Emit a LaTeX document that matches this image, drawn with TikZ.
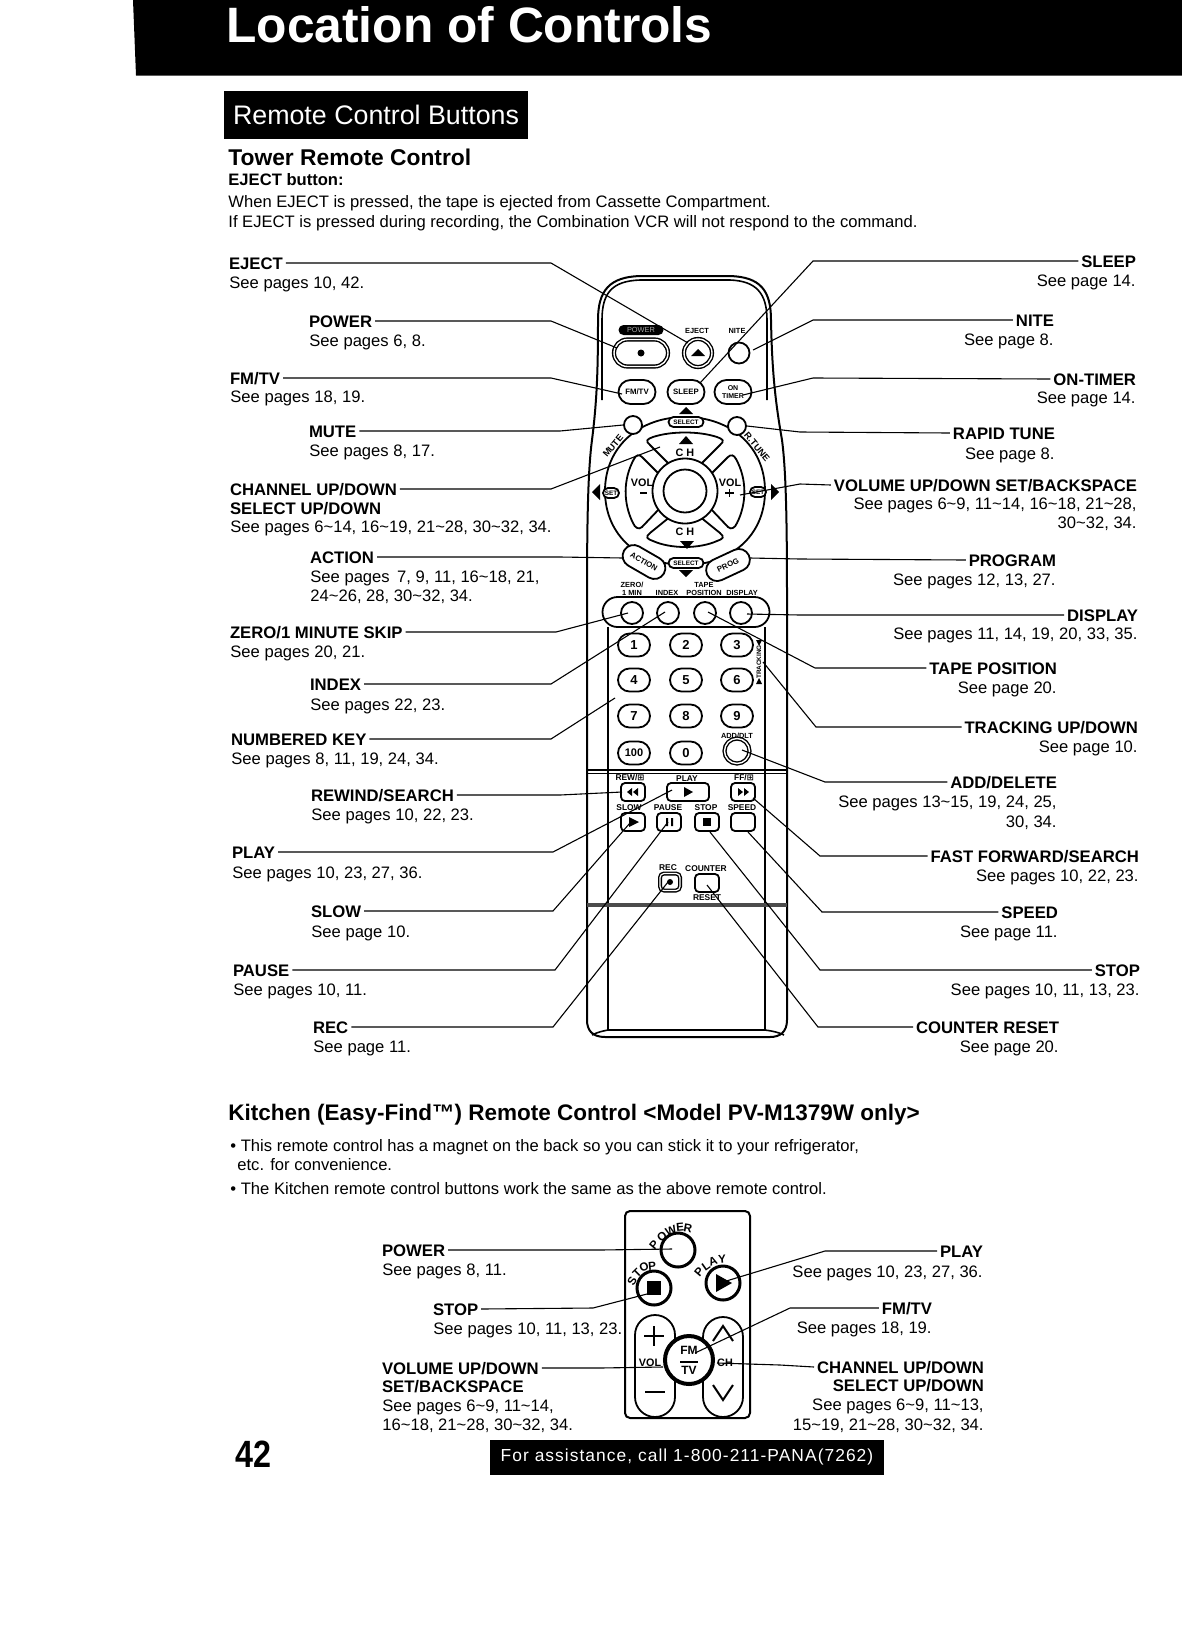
\documentclass[tikz,border=0pt]{standalone}
\usepackage{fontspec}
\setmainfont{Liberation Sans}
\newfontfamily\symf{DejaVu Sans}
\usetikzlibrary{shapes.misc}
\tikzset{
 lb/.style={font=\fontsize{8.35}{9}\selectfont\bfseries,inner sep=0pt,outer sep=1.5pt,text height=6pt,text depth=0pt},
 ls/.style={font=\fontsize{8.3}{9}\selectfont,inner sep=0pt,text height=6pt,text depth=0pt},
 lead/.style={line width=0.55pt,black},
 outline/.style={line width=0.8pt,black},
 key/.style={draw,line width=0.9pt,fill=white,rounded rectangle,inner sep=0pt,minimum width=16pt,minimum height=11.5pt,font=\fontsize{6.5}{7}\selectfont\bfseries},
 sq/.style={draw,line width=0.9pt,fill=white,rounded corners=2pt,inner sep=0pt,minimum width=12pt,minimum height=9pt,font=\fontsize{5}{5}\selectfont\bfseries},
 circ/.style={draw,line width=0.9pt,fill=white,circle,inner sep=0pt,minimum size=#1},
 tiny/.style={font=\fontsize{3.7}{4}\selectfont\bfseries,inner sep=0pt,align=center},
 small/.style={font=\fontsize{5.4}{5.6}\selectfont\bfseries,inner sep=0pt,align=center},
 trans/.style={font=\fontsize{4.2}{4.4}\selectfont\bfseries,inner sep=0pt},
 selp/.style={draw,line width=0.9pt,fill=white,rounded rectangle,inner sep=0pt,minimum width=17.5pt,minimum height=5pt,font=\fontsize{3.2}{3.4}\selectfont\bfseries},
 setp/.style={fill=white,draw,line width=0.9pt,rounded rectangle,inner sep=0pt,minimum width=8pt,minimum height=5pt,font=\fontsize{3.2}{3.4}\selectfont\bfseries},
 kc/.style={draw,fill=white,circle,inner sep=0pt,line width=1.5pt,minimum size=#1},
 kl/.style={font=\fontsize{5.8}{6}\selectfont\bfseries,inner sep=0pt},
}
\newcommand\LB[4]{\node[lb,anchor=west,xshift=-1.5pt] (l#1) at (#2,#3) {#4};}
\newcommand\RB[4]{\node[lb,anchor=east,xshift=1.5pt] (r#1) at (#2,#3) {#4};}
\newcommand\LS[4]{\node[ls,anchor=west] (#1) at (#2,#3) {#4};}
\newcommand\RS[4]{\node[ls,anchor=east] (#1) at (#2,#3) {#4};}
\newcommand\CL[5]{\coordinate (k#1) at (#2,#3);\coordinate (t#1) at (#4,#5);\draw[lead] (l#1.east)--(k#1)--(t#1);}
\newcommand\CR[5]{\coordinate (k#1) at (#2,#3);\coordinate (t#1) at (#4,#5);\draw[lead] (r#1.west)--(k#1)--(t#1);}
\begin{document}
\begin{tikzpicture}[x=0.5pt,y=-0.5pt]
\useasboundingbox (0,0) rectangle (1182,1644);
\fill[white] (0,0) rectangle (1182,1644);
% header
\fill[black] (133,0) -- (1182,0) -- (1182,75.5) -- (136,75.5) -- cycle;
\node[white,anchor=west,inner sep=0pt,font=\fontsize{24.85}{27}\selectfont\bfseries] (title) at (226,25) {Location of Controls};
\node[fill=black,text=white,inner sep=0pt,minimum width=152pt,minimum height=24pt,font=\fontsize{13.4}{15}\selectfont] (sub) at (376,115) {Remote Control Buttons};
\node[anchor=west,inner sep=0pt,font=\fontsize{11.4}{13}\selectfont\bfseries] (tower) at (228,157) {Tower Remote Control};
\node[anchor=west,inner sep=0pt,font=\fontsize{8.3}{9}\selectfont\bfseries] (ejb) at (228,180) {EJECT button:};
\LS{ej1}{228}{201}{When EJECT is pressed, the tape is ejected from Cassette Compartment.}
\LS{ej2}{228}{221}{If EJECT is pressed during recording, the Combination VCR will not respond to the command.}

% ---------- tower remote body
\draw[outline,line width=1pt] (598,320) .. controls (598,290) and (610,277) .. (640,276) -- (730,276) .. controls (760,277) and (771,290) .. (771,320) .. controls (772,370) and (775,400) .. (782,440) .. controls (786,470) and (787,520) .. (787,600) -- (787,1020) .. controls (787,1032) and (780,1037) .. (770,1037) -- (605,1037) .. controls (592,1037) and (587,1030) .. (587,1020) -- (587,600) .. controls (587,520) and (588,470) .. (592,440) .. controls (597,400) and (598,370) .. (598,320);
\draw[outline] (602,400) -- (602,320) .. controls (602,293) and (612,281) .. (640,280) -- (730,280) .. controls (756,281) and (767,293) .. (767,320) -- (767,400);
\draw[outline] (608,627) -- (608,1030);
\draw[outline] (765,627) -- (765,1030);
\draw[outline] (592,1035) .. controls (598,1032) and (603,1031) .. (608,1030) -- (765,1030) .. controls (772,1031) and (778,1032) .. (784,1035);
\draw[line width=0.8pt] (587,770) -- (787,770);
\draw[line width=0.4pt] (587,773) -- (787,773);
\draw[line width=1.8pt,black!70] (587,905) -- (787,905);

% top buttons
\node[fill=black,rounded rectangle,text=black!35,minimum width=22.5pt,minimum height=5pt,inner sep=0pt,font=\fontsize{3.7}{4}\selectfont] (powerlab) at (641,330) {POWER};
\node[key,double,double distance=0.7pt,line width=0.7pt,minimum width=27pt,minimum height=13.5pt] (power) at (641,353) {};
\fill (641,353) circle[radius=3.5];
\node[tiny] (ejlab) at (697,331) {EJECT};
\node[tiny] (nitelab) at (737,331) {NITE};
\node[circ=14pt,double,double distance=0.7pt,line width=0.7pt] (eject) at (698,353) {};
\fill (691,356) -- (698,349) -- (705,356) -- cycle;
\node[circ=10.5pt] (nite) at (739,353) {};
\node[key,minimum width=18.5pt,minimum height=12pt,font=\fontsize{3.9}{4}\selectfont\bfseries] (fmtv) at (637,392) {FM/TV};
\node[key,minimum width=18.5pt,minimum height=12pt,font=\fontsize{3.9}{4}\selectfont\bfseries] (sleep) at (686,392) {SLEEP};
\node[key,minimum width=18.5pt,minimum height=12pt,font=\fontsize{3.5}{3.8}\selectfont\bfseries,align=center] (ontimer) at (733,392) {ON\\TIMER};

% direction pad
\begin{scope}[shift={(685,491)}]
 \draw[line width=0.9pt] (-80,0) .. controls (-80,-45) and (-45,-74) .. (0,-74) .. controls (45,-74) and (80,-45) .. (80,0) .. controls (80,45) and (45,74) .. (0,74) .. controls (-45,74) and (-80,45) .. (-80,0) -- cycle;
 \draw[line width=0.9pt,fill=white] (-14,-25) -- (-35,-46) .. controls (-40,-50) and (-38,-52) .. (-32,-54) .. controls (-14,-60) and (14,-60) .. (32,-54) .. controls (38,-52) and (40,-50) .. (35,-46) -- (14,-25) -- cycle;
 \draw[line width=0.9pt,fill=white] (-14,25) -- (-35,42) .. controls (-40,46) and (-38,48) .. (-32,50) .. controls (-14,58) and (14,58) .. (32,50) .. controls (38,48) and (40,46) .. (35,42) -- (14,25) -- cycle;
 \foreach \a in {1,-1}{
  \begin{scope}[xscale=\a]
  \draw[line width=0.9pt,fill=white] (-25,-16) -- (-43,-34) .. controls (-46,-37) and (-49,-36) .. (-51,-32) .. controls (-62,-12) and (-62,12) .. (-52,32) .. controls (-50,37) and (-46,39) .. (-43,36) -- (-25,17) -- cycle;
  \end{scope}
 }
\end{scope}
\node[circ=32.5pt] (ringo) at (685,491) {};
\node[circ=21.5pt] (ringi) at (685,491) {};
\node[circ=9pt] (mute) at (633,425) {};
\node[circ=9pt] (rtune) at (737,426) {};
\node[selp] (sel1) at (686,422) {SELECT};
\fill (679,414) -- (686,407) -- (693,414) -- cycle;
\node[small,font=\fontsize{4.6}{5}\selectfont\bfseries,rotate=50] (mutelab) at (613,446) {MUTE};
\node[small,font=\fontsize{4.6}{5}\selectfont\bfseries,rotate=-50] (rtlab) at (757,447) {R.TUNE};
\node[small] (ch1) at (685,453) {C H};
\node[small] (ch2) at (685,532) {C H};
\fill (679,444) -- (686,436) -- (693,444) -- cycle;
\fill (680,541) -- (687,549) -- (694,541) -- cycle;
\node[small] (vol1) at (642,483) {VOL};
\node[small] (vol2) at (730,483) {VOL};
\draw[line width=0.6pt] (640,493) -- (647,493);
\draw[line width=0.8pt] (725,493) -- (734,493) (729.5,489) -- (729.5,497);
\fill (592,492) -- (600,484) -- (600,500) -- cycle;
\fill (779,492) -- (771,484) -- (771,500) -- cycle;
\node[setp] (setl) at (611,493) {SET};
\node[setp] (setr) at (758,492) {SET};
\node[key,rotate=-30,minimum width=23pt,minimum height=11pt,font=\fontsize{3.9}{4}\selectfont\bfseries] (action) at (644,562) {ACTION};
\node[key,rotate=25,minimum width=23pt,minimum height=11pt,font=\fontsize{3.9}{4}\selectfont\bfseries] (prog) at (728,565) {PROG};
\node[selp] (sel2) at (686,563) {SELECT};
\fill (679,570) -- (686,577) -- (693,570) -- cycle;

% function band
\node[draw,line width=0.9pt,fill=white,rounded rectangle,minimum width=83.5pt,minimum height=15pt,inner sep=0pt] (band) at (686,612) {};
\node[tiny] (zlab) at (632,589) {ZERO/\\1 MIN};
\node[tiny] (ilab) at (667,593) {INDEX};
\node[tiny] (tlab) at (704,589) {TAPE\\POSITION};
\node[tiny] (dlab) at (742,593) {DISPLAY};
\foreach \n/\x in {zero/632,index/668,tape/705,display/741}{ \node[circ=11pt] (\n) at (\x,613) {}; }

% number keys
\node[key] (k1) at (634,645) {1};
\node[key] (k2) at (686,645) {2};
\node[key] (k3) at (737,645) {3};
\node[key] (k4) at (634,680) {4};
\node[key] (k5) at (686,680) {5};
\node[key] (k6) at (737,680) {6};
\node[key] (k7) at (634,716) {7};
\node[key] (k8) at (686,716) {8};
\node[key] (k9) at (737,716) {9};
\node[key,font=\fontsize{5.5}{6}\selectfont\bfseries] (k100) at (634,753) {100};
\node[key] (k0) at (686,753) {0};
\node[tiny] (adlab) at (737,736) {ADD/DLT};
\node[circ=12.5pt,double,double distance=0.7pt,line width=0.7pt] (adddel) at (737,751) {};
\node[tiny,rotate=90,font=\fontsize{3.2}{3.4}\selectfont\bfseries] (trlab) at (759,662) {TRACKING};
\fill (756,640) -- (762,640) -- (759,646) -- cycle;
\fill (756,684) -- (762,684) -- (759,678) -- cycle;

% transport
\node[trans] (rlab) at (630,778) {REW/{\symf ⊞}};
\node[trans] (plab) at (687,779) {PLAY};
\node[trans] (flab) at (744,778) {FF/{\symf ⊞}};
\node[sq] (rew) at (633,792) {};
\node[sq,minimum width=21pt] (play) at (688,792) {};
\node[sq] (ff) at (743,792) {};
\fill (627,792) -- (632,788) -- (632,796) -- cycle (633,792) -- (638,788) -- (638,796) -- cycle;
\fill (684,787) -- (693,792) -- (684,797) -- cycle;
\fill (743,792) -- (738,788) -- (738,796) -- cycle (749,792) -- (744,788) -- (744,796) -- cycle;
\node[trans] (slab) at (629,808) {SLOW};
\node[trans] (palab) at (668,808) {PAUSE};
\node[trans] (stlab) at (706,808) {STOP};
\node[trans] (splab) at (742,808) {SPEED};
\node[sq] (slow) at (633,822) {};
\node[sq] (pause) at (669,822) {};
\node[sq] (stop) at (707,822) {};
\node[sq] (speed) at (743,822) {};
\fill (629,817) -- (639,822) -- (629,827) -- cycle;
\fill (666,818) rectangle (668,826) (671,818) rectangle (673,826);
\fill (703,818) rectangle (711,826);
\node[trans] (reclab) at (668,868) {REC};
\node[sq,double,double distance=0.6pt,line width=0.7pt,minimum width=10pt,minimum height=8.5pt] (rec) at (670,882) {};
\fill (670,882) circle[radius=3];
\node[trans] (clab) at (706,869) {COUNTER};
\node[sq] (counter) at (707,883) {};
\node[trans] (rslab) at (707,898) {RESET};

% ---------- left labels
\LB{Eject}{229}{263}{EJECT}\LS{s1}{229}{282}{See pages 10, 42.}
\LB{Power}{309}{321}{POWER}\LS{s2}{309}{340}{See pages 6, 8.}
\LB{Fm}{230}{378}{FM/TV}\LS{s3}{230}{396}{See pages 18, 19.}
\LB{Mute}{309}{431}{MUTE}\LS{s4}{309}{450}{See pages 8, 17.}
\LB{Chan}{230}{489}{CHANNEL UP/DOWN}
\node[lb,anchor=west,xshift=-1.5pt] (selud) at (230,508) {SELECT UP/DOWN};
\LS{s5}{230}{526}{See pages 6\textasciitilde14, 16\textasciitilde19, 21\textasciitilde28, 30\textasciitilde32, 34.}
\LB{Action}{310}{557}{ACTION}\LS{s6}{310}{576}{See pages\, 7, 9, 11, 16\textasciitilde18, 21,}\LS{s6b}{310}{595}{24\textasciitilde26, 28, 30\textasciitilde32, 34.}
\LB{Zero}{230}{632}{ZERO/1 MINUTE SKIP}\LS{s7}{230}{651}{See pages 20, 21.}
\LB{Index}{310}{684}{INDEX}\LS{s8}{310}{704}{See pages 22, 23.}
\LB{Num}{231}{739}{NUMBERED KEY}\LS{s9}{231}{758}{See pages 8, 11, 19, 24, 34.}
\LB{Rew}{311}{795}{REWIND/SEARCH}\LS{s10}{311}{814}{See pages 10, 22, 23.}
\LB{Play}{232}{852}{PLAY}\LS{s11}{232}{872}{See pages 10, 23, 27, 36.}
\LB{Slow}{311}{911}{SLOW}\LS{s12}{311}{931}{See page 10.}
\LB{Pause}{233}{970}{PAUSE}\LS{s13}{233}{989}{See pages 10, 11.}
\LB{Rec}{313}{1027}{REC}\LS{s14}{313}{1046}{See page 11.}
% ---------- right labels
\RB{Sleep}{1136}{261}{SLEEP}\RS{q1}{1136}{280}{See page 14.}
\RB{Nite}{1054}{320}{NITE}\RS{q2}{1054}{339}{See page 8.}
\RB{Timer}{1136}{379}{ON-TIMER}\RS{q3}{1136}{397}{See page 14.}
\RB{Tune}{1055}{433}{RAPID TUNE}\RS{q4}{1055}{453}{See page 8.}
\RB{Vol}{1137}{485}{VOLUME UP/DOWN SET/BACKSPACE}\RS{q5}{1137}{503}{See pages 6\textasciitilde9, 11\textasciitilde14, 16\textasciitilde18, 21\textasciitilde28,}\RS{q5b}{1137}{522}{30\textasciitilde32, 34.}
\RB{Prog}{1056}{560}{PROGRAM}\RS{q6}{1056}{579}{See pages 12, 13, 27.}
\RB{Disp}{1138}{615}{DISPLAY}\RS{q7}{1138}{633}{See pages 11, 14, 19, 20, 33, 35.}
\RB{Tape}{1057}{668}{TAPE POSITION}\RS{q8}{1057}{687}{See page 20.}
\RB{Track}{1138}{727}{TRACKING UP/DOWN}\RS{q9}{1138}{746}{See page 10.}
\RB{Add}{1057}{782}{ADD/DELETE}\RS{q10}{1057}{801}{See pages 13\textasciitilde15, 19, 24, 25,}\RS{q10b}{1057}{821}{30, 34.}
\RB{Ff}{1139}{856}{FAST FORWARD/SEARCH}\RS{q11}{1139}{875}{See pages 10, 22, 23.}
\RB{Speed}{1058}{912}{SPEED}\RS{q12}{1058}{931}{See page 11.}
\RB{Stop}{1140}{970}{STOP}\RS{q13}{1140}{989}{See pages 10, 11, 13, 23.}
\RB{Count}{1059}{1027}{COUNTER RESET}\RS{q14}{1059}{1046}{See page 20.}
% ---------- leaders
\CL{Eject}{551}{263}{688}{343}
\CL{Power}{551}{321}{617}{348}
\CL{Fm}{551}{378}{622}{394}
\CL{Mute}{560}{431}{623}{425}
\CL{Chan}{551}{489}{660}{447}
\CL{Action}{560}{557}{623}{558}
\CL{Zero}{556}{632}{628}{613}
\CL{Index}{551}{684}{665}{612}
\CL{Num}{551}{739}{615}{698}
\CL{Rew}{560}{795}{622}{792}
\CL{Play}{553}{852}{672}{790}
\CL{Slow}{553}{911}{630}{823}
\CL{Pause}{555}{970}{668}{822}
\CL{Rec}{553}{1027}{668}{882}
\CR{Sleep}{813}{261}{700}{383}
\CR{Nite}{813}{320}{753}{350}
\CR{Timer}{813}{378}{743}{395}
\CR{Tune}{800}{432}{747}{426}
\CR{Vol}{800}{484}{740}{495}
\CR{Prog}{800}{559}{750}{558}
\CR{Disp}{800}{615}{747}{614}
\CR{Tape}{815}{668}{708}{612}
\CR{Track}{816}{727}{763}{662}
\CR{Add}{825}{782}{742}{750}
\CR{Ff}{820}{856}{753}{798}
\CR{Speed}{822}{912}{748}{832}
\CR{Stop}{820}{970}{710}{832}
\CR{Count}{818}{1027}{707}{885}

% ---------- kitchen
\node[anchor=west,inner sep=0pt,font=\fontsize{11.25}{13}\selectfont\bfseries] (kit) at (228,1115) {Kitchen (Easy-Find™) Remote Control <Model PV-M1379W only>};
\LS{b1}{230}{1145}{\textbullet\ This remote control has a magnet on the back so you can stick it to your refrigerator,}
\LS{b1b}{237}{1164}{etc. for convenience.}
\LS{b2}{230}{1188}{\textbullet\ The Kitchen remote control buttons work the same as the above remote control.}

\draw[line width=1pt,rounded corners=2.5pt] (625,1211) rectangle (750,1418);
\node[draw,line width=0.9pt,fill=white,rounded rectangle,rotate=90,minimum width=51pt,minimum height=20pt,inner sep=0pt] (volp) at (655,1366) {};
\node[draw,line width=0.9pt,fill=white,rounded rectangle,rotate=90,minimum width=50pt,minimum height=20pt,inner sep=0pt] (chp) at (723,1367) {};
\draw[line width=1pt] (644,1336) -- (664,1336) (654,1326) -- (654,1346);
\draw[line width=1pt] (645,1392) -- (665,1392);
\draw[line width=1pt] (713,1341) -- (723,1326) -- (733,1341);
\draw[line width=1pt] (713,1385) -- (723,1400) -- (733,1385);
\node[small] (kvol) at (650,1363) {VOL};
\node[small] (kch) at (725,1363) {CH};
\node[kc=17pt] (kpower) at (678,1250) {};
\node[kc=17pt] (kstop) at (654,1288) {};
\fill (647,1281) rectangle (661,1295);
\node[kc=17pt] (kplay) at (723,1283) {};
\fill (716,1274) -- (732,1283) -- (716,1292) -- cycle;
\node[kl,rotate=50] (kpw1) at (654,1245) {P};
\node[kl,rotate=38] (kpw2) at (662,1237) {O};
\node[kl,rotate=22] (kpw3) at (671,1231) {W};
\node[kl,rotate=5] (kpw4) at (680,1227) {E};
\node[kl,rotate=-10] (kpw5) at (688,1228) {R};
\node[kl,rotate=60] (kst1) at (632,1281) {S};
\node[kl,rotate=45] (kst2) at (637,1273) {T};
\node[kl,rotate=25] (kst3) at (644,1267) {O};
\node[kl,rotate=5] (kst4) at (652,1266) {P};
\node[kl,rotate=50] (kpl1) at (699,1272) {P};
\node[kl,rotate=35] (kpl2) at (706,1266) {L};
\node[kl,rotate=20] (kpl3) at (713,1261) {A};
\node[kl,rotate=5] (kpl4) at (722,1259) {Y};
\node[kc=24pt,line width=2pt,align=center,font=\fontsize{6}{6.2}\selectfont\bfseries] (kfm) at (689,1360) {FM\\[-1pt]\rule[1pt]{9pt}{0.7pt}\\[-1.5pt]TV};

\LB{kPower}{382}{1250}{POWER}\LS{u1}{382}{1269}{See pages 8, 11.}
\LB{kStop}{433}{1309}{STOP}\LS{u2}{433}{1328}{See pages 10, 11, 13, 23.}
\LB{kVol}{382}{1368}{VOLUME UP/DOWN}
\node[lb,anchor=west,xshift=-1.5pt] (kset) at (382,1386) {SET/BACKSPACE};
\LS{u3}{382}{1405}{See pages 6\textasciitilde9, 11\textasciitilde14,}\LS{u3b}{382}{1424}{16\textasciitilde18, 21\textasciitilde28, 30\textasciitilde32, 34.}
\RB{kPlay}{983}{1251}{PLAY}\RS{v1}{983}{1271}{See pages 10, 23, 27, 36.}
\RB{kFm}{932}{1308}{FM/TV}\RS{v2}{932}{1327}{See pages 18, 19.}
\RB{kCh}{984}{1367}{CHANNEL UP/DOWN}
\node[lb,anchor=east,xshift=1.5pt] (ksel) at (984,1385) {SELECT UP/DOWN};
\RS{v3}{984}{1404}{See pages 6\textasciitilde9, 11\textasciitilde13,}\RS{v3b}{984}{1424}{15\textasciitilde19, 21\textasciitilde28, 30\textasciitilde32, 34.}
\CL{kPower}{600}{1250}{672}{1249}
\CL{kStop}{593}{1308}{647}{1294}
\CL{kVol}{600}{1368}{663}{1367}
\CR{kPlay}{825}{1251}{723}{1282}
\CR{kFm}{790}{1308}{695}{1353}
\CR{kCh}{780}{1365}{717}{1363}

% footer
\node[anchor=west,inner sep=0pt,xscale=0.85,font=\fontsize{19}{20}\selectfont\bfseries] (pg) at (235,1454) {42};
\node[fill=black,text=white,inner sep=0pt,minimum width=197pt,minimum height=17.5pt,font=\fontsize{8.7}{10}\selectfont,text height=6.5pt] (assist) at (687,1457) {\addfontfeature{LetterSpace=6}For assistance, call 1-800-211-PANA(7262)};
\end{tikzpicture}
\end{document}
